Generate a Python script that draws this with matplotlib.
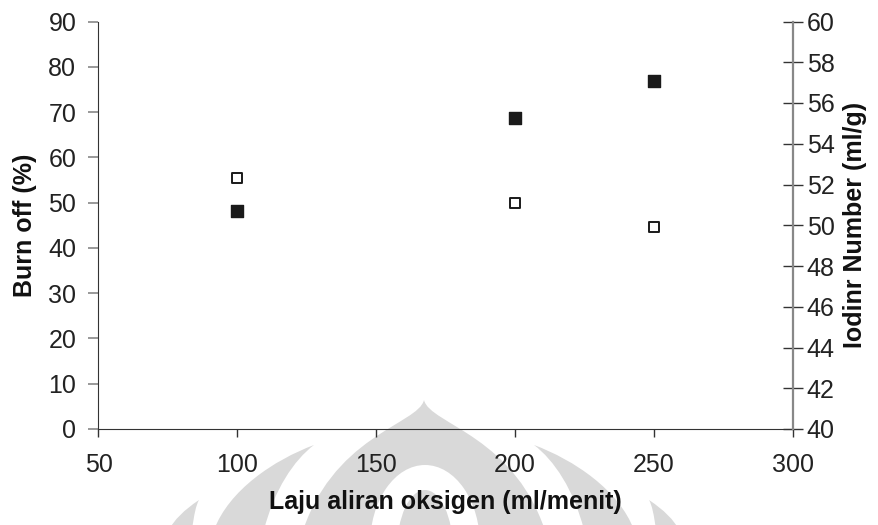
import matplotlib.pyplot as plt
from matplotlib.path import Path
from matplotlib.patches import PathPatch, Ellipse

plt.rcParams['font.family'] = ['Liberation Sans', 'DejaVu Sans']

# data
laju_oksigen = [100, 200, 250]          # ml/menit
burn_off = [48.1, 68.7, 76.9]           # % (filled squares, left axis)
iodine_number = [52.3, 51.1, 49.9]      # ml/g (open squares, right axis)

W, H = 879, 525
fig = plt.figure(figsize=(8.79, 5.25), dpi=100)


def px(x, y):
    # pixel position (from top-left) -> figure fraction
    return (x / W, 1 - y / H)


# faint logo watermark behind the plot
wm = '#d9d9d9'
dome = Path([px(424, 400), px(418, 425), px(330, 435), px(300, 540),
             px(548, 540), px(518, 435), px(430, 425), px(424, 400)],
            [Path.MOVETO, Path.CURVE4, Path.CURVE4, Path.CURVE4,
             Path.LINETO, Path.CURVE4, Path.CURVE4, Path.CURVE4])
fig.patches.append(PathPatch(dome, facecolor=wm, edgecolor='none',
                             transform=fig.transFigure, zorder=-3))
fig.patches.append(Ellipse(px(425, 545), 110 / W, 160 / H, facecolor='white',
                           edgecolor='none', transform=fig.transFigure, zorder=-2))
fig.patches.append(Ellipse(px(425, 550), 56 / W, 120 / H, facecolor=wm,
                           edgecolor='none', transform=fig.transFigure, zorder=-1))
for sgn in (-1, 1):
    def sx(d):
        return 424 + sgn * d
    leaf = Path([px(sx(110), 445), px(sx(150), 460), px(sx(195), 490), px(sx(210), 530),
                 px(sx(160), 530), px(sx(150), 490), px(sx(130), 460), px(sx(110), 445)],
                [Path.MOVETO, Path.CURVE4, Path.CURVE4, Path.CURVE4,
                 Path.LINETO, Path.CURVE4, Path.CURVE4, Path.CURVE4])
    fig.patches.append(PathPatch(leaf, facecolor=wm, edgecolor='none',
                                 transform=fig.transFigure, zorder=-3))
    small = Path([px(sx(225), 500), px(sx(240), 510), px(sx(250), 520), px(sx(255), 530),
                  px(sx(232), 530), px(sx(230), 515), px(sx(228), 505), px(sx(225), 500)],
                 [Path.MOVETO, Path.CURVE4, Path.CURVE4, Path.CURVE4,
                  Path.LINETO, Path.CURVE4, Path.CURVE4, Path.CURVE4])
    fig.patches.append(PathPatch(small, facecolor=wm, edgecolor='none',
                                 transform=fig.transFigure, zorder=-3))

ax = fig.add_axes([98.5 / W, 1 - 429 / H, (792.7 - 98.5) / W, (429 - 21.5) / H])
ax.set_facecolor('none')
ax2 = ax.twinx()

ax.scatter(laju_oksigen, burn_off, marker='s', s=70, color='#1a1a1a', zorder=3)
ax2.scatter(laju_oksigen, iodine_number, marker='s', s=55, facecolor='white',
            edgecolor='#1a1a1a', linewidth=1.4, zorder=3)

ax.set_xlim(50, 300)
ax.set_ylim(0, 90)
ax.set_xticks(range(50, 301, 50))
ax.set_yticks(range(0, 91, 10))
ax2.set_ylim(40, 60)
ax2.set_yticks(range(40, 61, 2))

ax.spines['top'].set_visible(False)
ax2.spines['top'].set_visible(False)
ax.spines['right'].set_visible(False)
ax2.spines['left'].set_visible(False)
ax2.spines['bottom'].set_visible(False)
ax.spines['left'].set_color('#333333')
ax.spines['bottom'].set_color('#333333')
ax2.spines['right'].set_color('#888888')
ax2.spines['right'].set_linewidth(1.6)

ax.tick_params(axis='y', direction='out', length=7, color='#888888', width=1.2,
               labelsize=18, labelcolor='#222222', pad=9)
ax.tick_params(axis='x', direction='out', length=6, color='#333333', width=1,
               labelsize=18, labelcolor='#222222', pad=11)
ax2.tick_params(axis='y', direction='inout', length=14, color='#333333', width=1,
                labelsize=18, labelcolor='#222222', pad=3)

ax.set_xlabel('Laju aliran oksigen (ml/menit)', fontsize=18, fontweight='bold',
              color='#111111', labelpad=10)
ax.set_ylabel('Burn off (%)', fontsize=18, fontweight='bold', color='#111111', labelpad=8)
ax2.set_ylabel('Iodinr Number (ml/g)', fontsize=18, fontweight='bold', color='#111111',
               labelpad=6)

fig.savefig('out.png', dpi=100)
